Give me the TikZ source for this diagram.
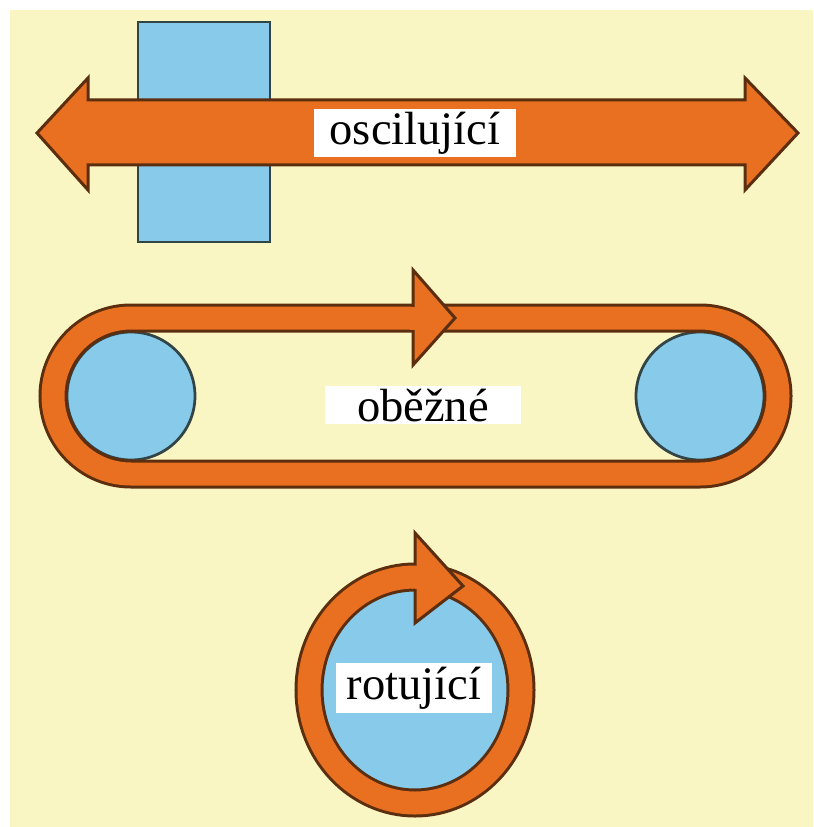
\documentclass[tikz,border=0pt]{standalone}
\usepackage{fontspec}
\setmainfont{Liberation Serif}
\definecolor{bgyellow}{RGB}{250,246,196}
\definecolor{beltorange}{RGB}{232,112,32}
\definecolor{edgebrown}{RGB}{92,46,16}
\definecolor{partblue}{RGB}{136,202,234}
\definecolor{edgegray}{RGB}{50,68,70}

\begin{document}
\begin{tikzpicture}[
          x=0.2mm, y=-0.2mm,
          body/.style={fill=beltorange, draw=edgebrown, line width=0.6mm, line join=miter},
          wheel/.style={fill=partblue, draw=edgegray, line width=0.55mm},
          word/.style={fill=white, inner ysep=0.5mm, font=\fontsize{26.5pt}{30pt}\selectfont}
      ]
      \useasboundingbox (0,0) rectangle (813,827);
      \fill[bgyellow] (10,10) rectangle (813,827);

      % oscilujici
      \draw[wheel] (138,22) rectangle (270,242);
      \draw[body] (37,133) -- (88,78) -- (88,100) -- (745,100) -- (745,78) -- (798,133)
          -- (745,190) -- (745,165) -- (88,165) -- (88,190) -- cycle;
      \node[word, inner xsep=3.1mm] (osc) at (415,133) {oscilující};

      % obezne
      \foreach \x in {131,700} {
          \draw[wheel] (\x,396) circle (12.8mm);
      }
      \foreach \c/\w in {edgebrown/5.8mm, beltorange/4.6mm} {
          \draw[\c, line width=\w] (700,318) arc[start angle=90, end angle=-90, radius=15.6mm]
              -- ++(-569,0) arc[start angle=270, end angle=90, radius=15.6mm] -- cycle;
      }
      \draw[body] (413,270) -- (455,318) -- (413,365) -- cycle;
      \draw[beltorange, line width=4.6mm] (410,318) -- (438,318);
      \node[word, inner xsep=6.4mm, text depth=0pt] (obe) at (423,405) {oběžné};

      % rotujici
      \fill[partblue] (415,690) ellipse [x radius=18.4mm, y radius=19.8mm];
      \foreach \c/\w in {edgebrown/5.8mm, beltorange/4.6mm} {
          \draw[\c, line width=\w] (415,690) ellipse [x radius=21.2mm, y radius=22.6mm];
      }
      \draw[body] (415,533) -- (463,586) -- (415,623) -- cycle;
      \draw[beltorange, line width=4.6mm] (412,577) -- (440,579);
      \node[word, inner xsep=2.2mm, inner ysep=0.8mm] (rot) at (414,688) {rotující};

      \end{tikzpicture}
\end{document}
